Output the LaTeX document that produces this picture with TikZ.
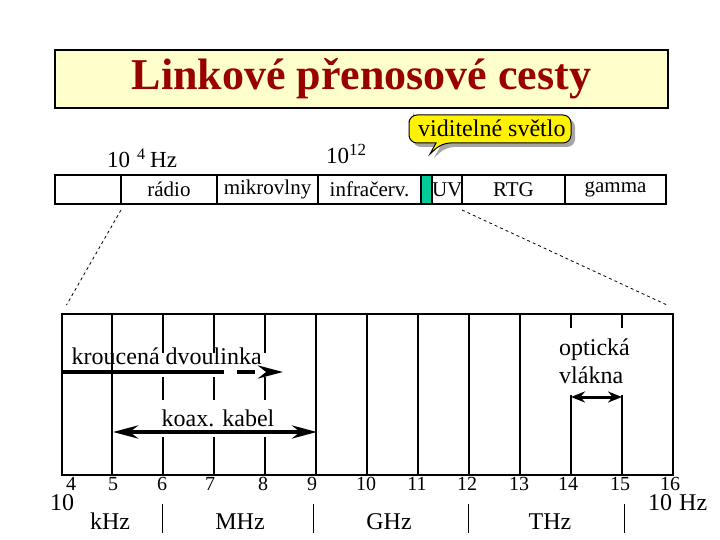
\documentclass[tikz,border=0pt]{standalone}
\usepackage{fontspec}
\setmainfont{Liberation Serif}
\usetikzlibrary{arrows.meta}
\definecolor{titlered}{RGB}{153,0,0}
\definecolor{titlebg}{RGB}{255,255,204}
\definecolor{visgreen}{RGB}{0,204,153}
\begin{document}
\begin{tikzpicture}[x=1pt,y=-1pt,
  lab/.style={font=\fontsize{24}{28}\selectfont,inner sep=0pt},
  cell/.style={draw,line width=1.2pt,anchor=west,minimum height=29pt,inner sep=0pt,outer sep=0pt,font=\fontsize{21}{24}\selectfont},
  tick/.style={font=\fontsize{20}{22}\selectfont,inner sep=0pt,anchor=base},
  gridln/.style={line width=2pt},
  wire/.style={line width=4pt},
  dia/.style={line width=0.8pt,dash pattern=on 3pt off 3pt}]
\fill[white] (0,0) rectangle (720,540);
\useasboundingbox (0,0) rectangle (720,540);
\node[draw,line width=1.2pt,fill=titlebg,minimum width=613pt,minimum height=58pt,inner sep=0pt,text=titlered,font=\fontsize{44}{50}\selectfont\bfseries] (title) at (361.5,79) {Linkové přenosové cesty};
% spectrum bar
\node[cell,minimum width=66pt] (c0) at (55,189.5) {};
\node[cell,minimum width=96pt] (radio) at (121,189.5) {rádio};
\node[cell,minimum width=101pt] (mikro) at (217,189.5) {mikrovlny};
\node[cell,minimum width=103pt] (infra) at (318,189.5) {infračerv.};
\node[cell,minimum width=11pt,fill=visgreen] (vis) at (421,189.5) {};
\node[cell,minimum width=30pt] (uv) at (432,189.5) {UV};
\node[cell,minimum width=103pt] (rtg) at (462,189.5) {RTG};
\node[cell,minimum width=101pt] (gamma) at (565,189.5) {gamma};
\node[lab,anchor=base west,font=\fontsize{23}{26}\selectfont] (f4) at (107,168) {10\hspace{7pt}\raisebox{9pt}{\fontsize{16}{16}\selectfont 4}\hspace{5pt}Hz};
\node[lab,anchor=base west,font=\fontsize{23}{26}\selectfont] (f12) at (326,164) {10\raisebox{8pt}{\fontsize{17}{17}\selectfont 12}};
% balloon
\fill[gray!70] (413,119) [rounded corners=8pt] -- (413,119) -- (575,119) -- (575,147) -- (446,147) [sharp corners] -- (434,158) -- (440,147) [rounded corners=8pt] -- (413,147) -- cycle;
\draw[line width=1pt,fill=yellow] (409,129) [rounded corners=8pt] -- (409,115) -- (571,115) -- (571,143) -- (442,143) [sharp corners] -- (430,154) -- (436,143) [rounded corners=8pt] -- (409,143) -- cycle;
\node[lab,anchor=base west] (vistxt) at (418,136.5) {viditelné světlo};
% zoom lines
\coordinate (zl) at (66.5,305); \coordinate (zr) at (667,305);
\draw[dia] ([yshift=-6pt]radio.south west) -- (zl); \draw[dia] ([yshift=-6pt]rtg.south west) -- (zr);
% detail
\node[draw,line width=1.5pt,minimum width=611.3pt,minimum height=161pt,inner sep=0pt,anchor=north west] (spec) at (61,313) {};
\draw[gridln] (112,313) -- (112,474); \draw[gridln] (316,313) -- (316,474); \draw[gridln] (367,313) -- (367,474);
\draw[gridln] (418,313) -- (418,474); \draw[gridln] (469,313) -- (469,474); \draw[gridln] (520,313) -- (520,474);
\draw[gridln] (163,313) -- (163,353) (163,377) -- (163,400) (163,437) -- (163,474);
\draw[gridln] (214,313) -- (214,353) (214,377) -- (214,400) (214,437) -- (214,474);
\draw[gridln] (265,313) -- (265,353) (265,377) -- (265,400) (265,437) -- (265,474);
\draw[gridln] (571,313) -- (571,328) (571,395) -- (571,474); \draw[gridln] (622,313) -- (622,328) (622,395) -- (622,474);
\coordinate (tpA) at (61,372); \coordinate (tpB) at (224,372); \coordinate (tpC) at (237,372); \coordinate (tpD) at (283,372);
\draw[wire] (tpA) -- (tpB); \draw[wire,dash pattern=on 18pt off 20pt,-{Stealth[length=25pt,width=13pt]}] (tpC) -- (tpD);
\coordinate (kxA) at (113,432); \coordinate (kxB) at (317,432);
\draw[wire,{Stealth[length=25pt,width=13pt]}-{Stealth[length=25pt,width=13pt]}] (kxA) -- (kxB);
\coordinate (ofA) at (571,397); \coordinate (ofB) at (622,397);
\draw[line width=3pt,{Stealth[length=14pt,width=11pt]}-{Stealth[length=14pt,width=11pt]}] (ofA) -- (ofB);
\node[lab,anchor=base west] (tp) at (71.5,364) {kroucená dvoulinka};
\node[lab,anchor=base west] (kx) at (161.5,426.5) {koax. kabel};
\node[lab,anchor=base west] (of1) at (559,355) {optická}; \node[lab,anchor=base west] (of2) at (559,383) {vlákna};
% scale
\node[tick] (t4) at (71,490) {4}; \node[tick] (t5) at (113,490) {5}; \node[tick] (t6) at (162,490) {6}; \node[tick] (t7) at (210,490) {7};
\node[tick] (t8) at (263,490) {8}; \node[tick] (t9) at (312,490) {9}; \node[tick] (t10) at (366,490) {10}; \node[tick] (t11) at (417,490) {11};
\node[tick] (t12) at (467,490) {12}; \node[tick] (t13) at (519,490) {13}; \node[tick] (t14) at (568,490) {14}; \node[tick] (t15) at (620,490) {15};
\node[tick] (t16) at (670,490) {16};
\node[lab,anchor=base west] (e0) at (50,510) {10}; \node[lab,anchor=base west] (e1) at (648,510) {10\hspace{7pt}Hz};
\node[lab,anchor=base] (khz) at (110,529) {kHz}; \node[lab,anchor=base] (mhz) at (240,529) {MHz};
\node[lab,anchor=base] (ghz) at (389,529) {GHz}; \node[lab,anchor=base] (thz) at (550,529) {THz};
\draw[line width=1pt] (162,504) -- (162,533) (313,504) -- (313,533) (468,504) -- (468,533) (624,504) -- (624,533);
\end{tikzpicture}
\end{document}
